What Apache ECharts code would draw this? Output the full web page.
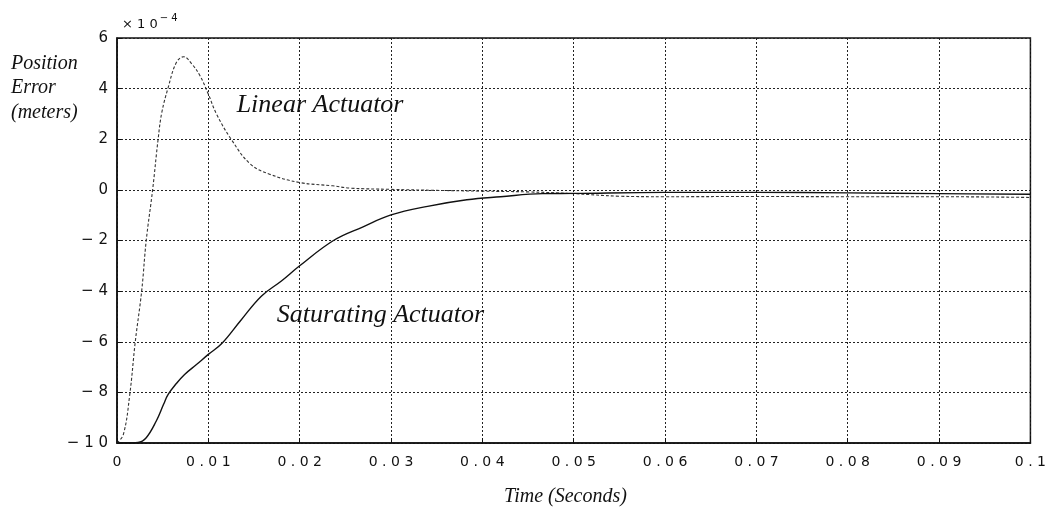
<!DOCTYPE html>
<html>
<head>
<meta charset="utf-8">
<script src="https://cdn.jsdelivr.net/npm/echarts@6/dist/echarts.min.js"></script>
<style>
  html, body { margin: 0; padding: 0; background: #fff; }
  #chart { width: 1049px; height: 508px; }
</style>
</head>
<body>
<div id="chart"></div>
<script>
// Step response of the position loop, error in units of 1e-4 m
const linearTime = [0, 0.0007, 0.0014, 0.002, 0.0027, 0.0032, 0.0039, 0.0045, 0.0049, 0.0056, 0.0065, 0.0073, 0.0082, 0.0091, 0.0100, 0.0109, 0.0125, 0.0146, 0.0167, 0.020, 0.0236, 0.0255, 0.030, 0.035, 0.040, 0.045, 0.050, 0.055, 0.060, 0.070, 0.080, 0.090, 0.100];
const linearError = [-10, -9.66, -8.08, -6, -4, -2, 0, 2, 3.05, 4.04, 5.03, 5.26, 4.97, 4.5, 3.78, 2.99, 2.0, 1.02, 0.62, 0.29, 0.16, 0.07, 0.02, -0.02, -0.05, -0.08, -0.15, -0.25, -0.27, -0.26, -0.27, -0.27, -0.3];

const saturatingTime = [0, 0.001, 0.0023, 0.0032, 0.0043, 0.0051, 0.0056, 0.0065, 0.0074, 0.0087, 0.0100, 0.0115, 0.0135, 0.0158, 0.018, 0.020, 0.0237, 0.027, 0.030, 0.034, 0.0383, 0.042, 0.0466, 0.050, 0.060, 0.070, 0.080, 0.090, 0.100];
const saturatingError = [-10, -10, -9.98, -9.79, -9.13, -8.47, -8.08, -7.65, -7.29, -6.9, -6.5, -6.06, -5.18, -4.2, -3.6, -3.0, -2.0, -1.45, -0.99, -0.65, -0.39, -0.27, -0.15, -0.14, -0.1, -0.1, -0.12, -0.15, -0.17];

const xTickValues = [0, 0.01, 0.02, 0.03, 0.04, 0.05, 0.06, 0.07, 0.08, 0.09, 0.1];
const xTickLabels = ['0', '0.01', '0.02', '0.03', '0.04', '0.05', '0.06', '0.07', '0.08', '0.09', '0.1'];
const yTickValues = [-10, -8, -6, -4, -2, 0, 2, 4, 6];
const yTickLabels = ['\u2212 1 0', '\u2212 8', '\u2212 6', '\u2212 4', '\u2212 2', '0', '2', '4', '6'];

const seriesNames = ['Linear Actuator', 'Saturating Actuator'];
const yScaleBase = '\u00d7 1 0';
const yScaleExp = '\u2212 4';
const yTitleLines = ['Position', 'Error', '(meters)'];
const xTitle = 'Time (Seconds)';

const pairs = (xs, ys) => xs.map((x, i) => [x, ys[i]]);
// spread characters apart, like the wide plotter lettering
const spaced = s => s.split('').join(' ');

const chart = echarts.init(document.getElementById('chart'), null, { renderer: 'canvas' });

const gridLine = { show: true, lineStyle: { color: '#222', width: 1, type: [2, 2] } };

chart.setOption({
  backgroundColor: '#fff',
  animation: false,
  grid: { left: 117, right: 18, top: 38, bottom: 65, show: true, borderColor: '#111', borderWidth: 1.5, backgroundColor: 'transparent' },
  xAxis: {
    type: 'value', min: 0, max: 0.1, interval: 0.01,
    axisLine: { show: true, onZero: false, lineStyle: { color: '#111', width: 1.5 } },
    axisTick: { show: true, inside: true, length: 5, lineStyle: { color: '#111' } },
    splitLine: gridLine,
    axisLabel: {
      margin: 12, color: '#111', fontFamily: 'DejaVu Sans', fontSize: 14,
      formatter: v => {
        const i = xTickValues.findIndex(t => Math.abs(t - v) < 1e-9);
        return i >= 0 ? spaced(xTickLabels[i]) : '';
      }
    }
  },
  yAxis: {
    type: 'value', min: -10, max: 6, interval: 2,
    axisLine: { show: true, lineStyle: { color: '#111', width: 1.5 } },
    axisTick: { show: true, inside: true, length: 5, lineStyle: { color: '#111' } },
    splitLine: gridLine,
    axisLabel: {
      margin: 9, color: '#111', fontFamily: 'DejaVu Sans', fontSize: 15,
      formatter: v => {
        const i = yTickValues.findIndex(t => Math.abs(t - v) < 1e-9);
        return i >= 0 ? yTickLabels[i] : '';
      }
    }
  },
  series: [
    {
      name: seriesNames[0], type: 'line', data: pairs(linearTime, linearError),
      smooth: 0.4, showSymbol: false, symbol: 'none',
      lineStyle: { color: '#333', width: 1.1, type: [3, 2] }
    },
    {
      name: seriesNames[1], type: 'line', data: pairs(saturatingTime, saturatingError),
      smooth: 0.4, showSymbol: false, symbol: 'none',
      lineStyle: { color: '#111', width: 1.4, type: 'solid' }
    }
  ]
});

// Labels placed in data coordinates beside each curve
const toPx = (t, v) => chart.convertToPixel({ gridIndex: 0 }, [t, v]);
const linearPos = toPx(0.0131, 3.36);
const saturatingPos = toPx(0.0175, -4.95);
const cornerPos = toPx(0, 6);
const xMid = toPx(0.0491, -10);

chart.setOption({
  graphic: [
    { type: 'text', x: linearPos[0], y: linearPos[1], style: { text: seriesNames[0], font: 'italic 26px "Liberation Serif"', fill: '#111', textVerticalAlign: 'middle' } },
    { type: 'text', x: saturatingPos[0], y: saturatingPos[1], style: { text: seriesNames[1], font: 'italic 26px "Liberation Serif"', fill: '#111', textVerticalAlign: 'middle' } },
    {
      type: 'text', x: cornerPos[0] + 5, y: cornerPos[1] - 16,
      style: {
        text: '{b|' + yScaleBase + '}{e|' + yScaleExp + '}',
        rich: {
          b: { fontFamily: 'DejaVu Sans', fontSize: 13, fill: '#111', color: '#111', verticalAlign: 'bottom' },
          e: { fontFamily: 'DejaVu Sans', fontSize: 10, fill: '#111', color: '#111', padding: [0, 0, 8, 2], verticalAlign: 'bottom' }
        },
        textVerticalAlign: 'middle'
      }
    },
    { type: 'text', x: 11, y: 88, style: { text: yTitleLines.join('\n'), font: 'italic 20px "Liberation Serif"', lineHeight: 24.5, fill: '#111', textVerticalAlign: 'middle' } },
    { type: 'text', x: xMid[0], y: 497, style: { text: xTitle, font: 'italic 20px "Liberation Serif"', fill: '#111', textAlign: 'center', textVerticalAlign: 'middle' } }
  ]
});
</script>
</body>
</html>
